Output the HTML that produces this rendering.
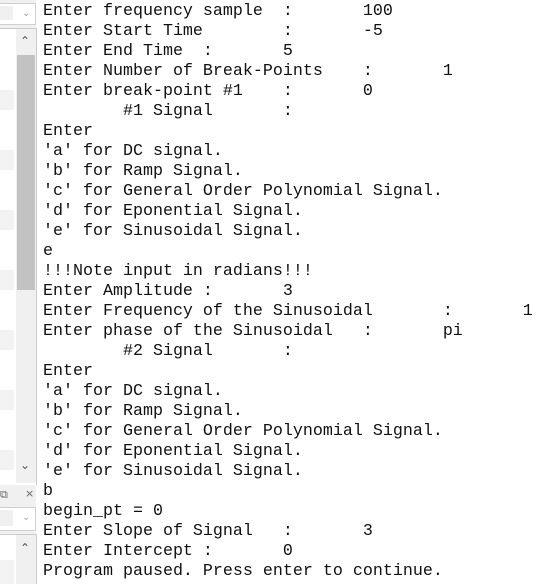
<!DOCTYPE html>
<html><head><style>
html,body{margin:0;padding:0;background:#fff;width:559px;height:584px;overflow:hidden;position:relative}
pre{position:absolute;left:43px;top:2px;margin:0;font-family:"Liberation Mono",monospace;font-size:16.67px;line-height:20px;color:#111}
.l{position:absolute}
</style></head><body>
<div class="l" style="left:0;top:0;width:36px;height:584px;background:#f0f0f0"></div>
<div class="l" style="left:0;top:3px;width:35px;height:20px;background:#fff;border:1px solid #d0d0d0;border-left:none"></div>
<div class="l" style="left:0;top:6px;width:13px;height:14px;background:#f0f0f0"></div>
<div class="l" style="left:22px;top:8px;color:#999;font:10px 'DejaVu Sans'">⌄</div>
<div class="l" style="left:0;top:28px;width:36px;height:456px;background:#fff;border-top:1px solid #ccc;border-right:1px solid #ccc"></div>
<div class="l" style="left:0;top:90px;width:14px;height:20px;background:#f3f3f3"></div>
<div class="l" style="left:0;top:150px;width:14px;height:20px;background:#f3f3f3"></div>
<div class="l" style="left:0;top:210px;width:14px;height:20px;background:#f3f3f3"></div>
<div class="l" style="left:0;top:270px;width:14px;height:20px;background:#f3f3f3"></div>
<div class="l" style="left:0;top:330px;width:14px;height:20px;background:#f3f3f3"></div>
<div class="l" style="left:0;top:390px;width:14px;height:20px;background:#f3f3f3"></div>
<div class="l" style="left:0;top:450px;width:14px;height:20px;background:#f3f3f3"></div>
<div class="l" style="left:16px;top:29px;width:20px;height:454px;background:#f0f0f0"></div>
<div class="l" style="left:17px;top:55px;width:18px;height:235px;background:#c2c2c2"></div>
<div class="l" style="left:20px;top:34px;font:12px 'DejaVu Sans';color:#555">⌃</div>
<div class="l" style="left:20px;top:458px;font:12px 'DejaVu Sans';color:#555">⌄</div>
<div class="l" style="left:0;top:488px;font:11px 'DejaVu Sans';color:#666">⧉</div>
<div class="l" style="left:25px;top:487px;font:11px 'DejaVu Sans';color:#666">×</div>
<div class="l" style="left:0;top:507px;width:35px;height:22px;background:#fff;border:1px solid #d0d0d0;border-left:none"></div>
<div class="l" style="left:0;top:510px;width:13px;height:16px;background:#f0f0f0"></div>
<div class="l" style="left:22px;top:512px;color:#aaa;font:10px 'DejaVu Sans'">⌄</div>
<div class="l" style="left:0;top:534px;width:36px;height:50px;background:#fff;border-top:1px solid #ccc;border-right:1px solid #ccc"></div>
<div class="l" style="left:16px;top:535px;width:20px;height:49px;background:#f0f0f0"></div>
<div class="l" style="left:0;top:560px;width:14px;height:24px;background:#f3f3f3"></div>
<div class="l" style="left:20px;top:541px;font:12px 'DejaVu Sans';color:#555">⌃</div>
<pre>Enter frequency sample  :       100
Enter Start Time        :       -5
Enter End Time  :       5
Enter Number of Break-Points    :       1
Enter break-point #1    :       0
        #1 Signal       :
Enter
'a' for DC signal.
'b' for Ramp Signal.
'c' for General Order Polynomial Signal.
'd' for Eponential Signal.
'e' for Sinusoidal Signal.
e
!!!Note input in radians!!!
Enter Amplitude :       3
Enter Frequency of the Sinusoidal       :       1
Enter phase of the Sinusoidal   :       pi
        #2 Signal       :
Enter
'a' for DC signal.
'b' for Ramp Signal.
'c' for General Order Polynomial Signal.
'd' for Eponential Signal.
'e' for Sinusoidal Signal.
b
begin_pt = 0
Enter Slope of Signal   :       3
Enter Intercept :       0
Program paused. Press enter to continue.</pre>
</body></html>
